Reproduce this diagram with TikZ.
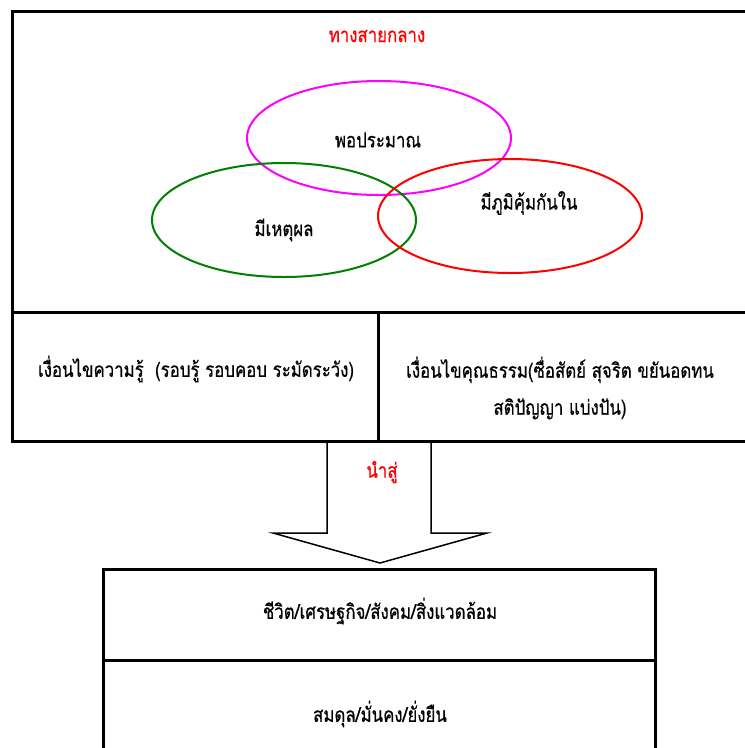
\documentclass[tikz,border=0pt]{standalone}
\usepackage{fontspec}
\newfontfamily\thaifont[Script=Thai,FakeStretch=0.82,FakeBold=0.6]{Loma}
\usetikzlibrary{shapes.geometric}
\begin{document}
\begin{tikzpicture}[x=1pt,y=-1pt,
  box/.style={draw=black,line width=3pt},
  lbl/.style={font=\thaifont\fontsize{20.5}{37}\selectfont,inner sep=0pt,align=center},
  venn/.style={draw,ellipse,line width=2pt,minimum width=264pt,minimum height=114pt,inner sep=0pt}]
\useasboundingbox (0,0) rectangle (745,748);
\clip (0,0) rectangle (745,748);
% top box
\draw[box] (12,11) rectangle (760,312);
% middle boxes
\draw[box] (12,312) rectangle (378,441);
\draw[box] (378,312) rectangle (760,441);
% arrow
\draw[line width=1.5pt,line join=miter]
  (327,441) -- (327,533) -- (273,533) -- (380,563) -- (487,533) -- (431,533) -- (431,441);
% bottom boxes
\draw[box] (103,569) rectangle (655,660);
\draw[box] (103,660) rectangle (655,760);
% ellipses
\node[venn,draw={rgb,255:red,255;green,0;blue,255}] (pop) at (379,138) {};
\node[venn,draw={rgb,255:red,0;green,128;blue,0}] (reas) at (284,220) {};
\node[venn,draw={rgb,255:red,255;green,0;blue,0}] (imm) at (510,216) {};
% texts
\node[lbl,text=red] (title) at (377,36) {ทางสายกลาง};
\node[lbl] (tpop) at (378,140) {พอประมาณ};
\node[lbl] (treas) at (284,230) {มีเหตุผล};
\node[lbl] (timm) at (529,203) {มีภูมิคุ้มกันใน};
\node[lbl] (know) at (196,369) {เงื่อนไขความรู้~ (รอบรู้ รอบคอบ ระมัดระวัง)};
\node[lbl] (moral) at (560,388) {เงื่อนไขคุณธรรม(ซื่อสัตย์ สุจริต ขยันอดทน\\สติปัญญา แบ่งปัน)};
\node[lbl,text=red] (lead) at (382,472) {นำสู่};
\node[lbl] (life) at (380,611) {ชีวิต/เศรษฐกิจ/สังคม/สิ่งแวดล้อม};
\node[lbl] (bal) at (380,714) {สมดุล/มั่นคง/ยั่งยืน};
\end{tikzpicture}
\end{document}
